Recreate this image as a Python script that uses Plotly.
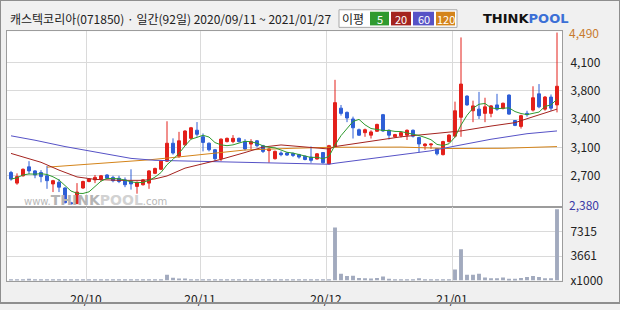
import pandas as pd
import plotly.graph_objects as go

TITLE = "캐스텍코리아(071850) · 일간(92일) 2020/09/11 ~ 2021/01/27"
START, END = "2020-09-11", "2021-01-27"
HOLIDAYS = ["2020-09-30", "2020-10-01", "2020-10-02", "2020-10-09",
            "2020-12-25", "2020-12-31", "2021-01-01"]

OPEN = [2770, 2640, 2730, 2840, 2790, 2770, 2730, 2630, 2650, 2580,
        2400, 2390, 2580, 2660, 2680, 2690, 2740, 2710, 2700, 2680,
        2660, 2600, 2620, 2640, 2760, 2810, 2910, 3130, 2970, 3110,
        3190, 3290, 3210, 3130, 3050, 2940, 3150, 3150, 3190, 3150,
        3120, 3160, 3100, 3040, 2940, 3010, 3010, 3005, 2990, 2970,
        2960, 2936, 3016, 2876, 3089, 3561, 3509, 3428, 3296, 3260,
        3229, 3277, 3481, 3289, 3209, 3221, 3229, 3289, 3200, 3100,
        3110, 3065, 2990, 3150, 3217, 3449, 3709, 3529, 3549, 3497,
        3497, 3601, 3557, 3722, 3409, 3337, 3497, 3537, 3737, 3549,
        3697, 3601]
HIGH = [2790, 2760, 2820, 2910, 2800, 2800, 2850, 2680, 2690, 2590,
        2410, 2640, 2670, 2700, 2740, 2740, 2750, 2730, 2730, 2710,
        2810, 2660, 2690, 2800, 2830, 2920, 3400, 3190, 3270, 3290,
        3330, 3390, 3250, 3140, 3060, 3190, 3200, 3230, 3200, 3180,
        3180, 3170, 3110, 3070, 3040, 3030, 3020, 3015, 3000, 2980,
        3090, 3010, 3020, 3110, 3909, 3600, 3520, 3457, 3310, 3310,
        3289, 3370, 3490, 3300, 3245, 3270, 3300, 3300, 3210, 3130,
        3125, 3070, 3160, 3240, 3641, 4430, 3720, 3653, 3761, 3689,
        3600, 3737, 3630, 3730, 3415, 3480, 3529, 3830, 3857, 3710,
        3729, 4490]
LOW = [2670, 2620, 2720, 2750, 2700, 2650, 2570, 2530, 2530, 2390,
       2380, 2380, 2570, 2650, 2640, 2660, 2690, 2650, 2640, 2590,
       2560, 2510, 2610, 2570, 2750, 2800, 2900, 2990, 2950, 3100,
       3180, 3210, 3030, 3030, 2910, 2910, 3140, 3130, 3140, 3040,
       3050, 3080, 3010, 2890, 2930, 2970, 2975, 2960, 2940, 2920,
       2890, 2930, 2880, 2870, 3080, 3470, 3389, 3188, 3220, 3209,
       3188, 3270, 3270, 3176, 3200, 3200, 3170, 3200, 3016, 3050,
       3060, 2980, 2980, 3140, 3200, 3209, 3590, 3389, 3428, 3389,
       3449, 3529, 3545, 3480, 3340, 3310, 3457, 3520, 3560, 3530,
       3529, 3509]
CLOSE = [2690, 2720, 2810, 2790, 2740, 2720, 2670, 2670, 2590, 2400,
         2385, 2530, 2660, 2690, 2710, 2730, 2700, 2670, 2660, 2620,
         2630, 2650, 2680, 2790, 2820, 2910, 3130, 3010, 3160, 3280,
         3320, 3240, 3140, 3050, 2940, 3180, 3190, 3190, 3150, 3060,
         3150, 3100, 3030, 3060, 3030, 2990, 2985, 2980, 2960, 2930,
         2920, 3000, 2890, 3100, 3629, 3497, 3440, 3320, 3229, 3296,
         3269, 3361, 3281, 3229, 3236, 3260, 3289, 3217, 3121, 3120,
         3120, 3000, 3150, 3230, 3529, 3857, 3601, 3589, 3469, 3577,
         3589, 3549, 3621, 3488, 3349, 3469, 3481, 3689, 3577, 3697,
         3561, 3830]
VOLUME_K = [120, 110, 130, 250, 120, 110, 140, 120, 110, 150,
            130, 160, 140, 110, 100, 110, 120, 100, 110, 120,
            130, 110, 100, 150, 130, 160, 880, 400, 300, 300,
            200, 150, 140, 120, 130, 150, 110, 120, 110, 120,
            100, 110, 120, 130, 120, 110, 100, 110, 120, 110,
            130, 120, 140, 160, 7950, 1025, 690, 730, 390, 340,
            290, 390, 590, 250, 190, 170, 160, 180, 340, 150,
            130, 140, 150, 160, 1650, 4685, 880, 880, 1025, 440,
            340, 340, 440, 250, 250, 390, 540, 680, 540, 340,
            340, 10690]

MA20_IDX = [0, 5, 8, 11, 14, 18, 22, 24, 26, 29, 32, 35, 39, 42, 45, 48,
            51, 53, 54, 59, 65, 70, 75, 80, 84, 87, 91]
MA20_VAL = [3005, 2896, 2800, 2716, 2686, 2674, 2674, 2692, 2728, 2824,
            2878, 2932, 3016, 3083, 3109, 3089, 3065, 3059, 3089, 3143,
            3209, 3245, 3281, 3341, 3383, 3455, 3549]
MA60_IDX = [0, 4, 9, 14, 20, 24, 30, 40, 45, 50, 53, 54, 59, 65, 70, 74,
            80, 86, 91]
MA60_VAL = [3221, 3167, 3089, 3022, 2944, 2920, 2911, 2896, 2888, 2878,
            2872, 2884, 2932, 2992, 3037, 3095, 3179, 3247, 3281]
MA120_IDX = [6, 13, 23, 28, 34, 39, 47, 53, 65, 73, 82, 91]
MA120_VAL = [2836, 2872, 2926, 2962, 3008, 3047, 3068, 3080, 3083, 3065,
             3068, 3089]

PRICE_TICK_TEXT = ["4,100", "3,800", "3,400", "3,100", "2,700"]
PRICE_MAX_LABEL, PRICE_MIN_LABEL = "4,490", "2,380"
VOL_TICK_VALS = [0, 3661, 7315]
VOL_TICK_TEXT = ["x1000", "3661", "7315"]
MA_NAMES = ["5", "20", "60", "120"]

# ---- derived ----
days = pd.bdate_range(START, END)
days = days[~days.isin(pd.to_datetime(HOLIDAYS))]
n = len(days)
xi = list(range(n))
month_start = [i for i in range(1, n) if days[i].month != days[i - 1].month]
month_text = [days[i].strftime("%y/%m") for i in month_start]
month_vals = [i - 0.5 for i in month_start]
ma5 = pd.Series(CLOSE).rolling(5, min_periods=1).mean().tolist()

W, H = 620, 310
PL, PR = 7, 562
PT, PB, VB = 32, 212, 287
STEP = 6.0
FIRST = 11
x_range = [-(FIRST - PL) / STEP, (n - 1) + (PR - (FIRST + STEP * (n - 1))) / STEP]
p_hi = max(HIGH) + 1.3 * 12.01
p_lo = min(LOW) - 3 * 12.01
span = p_hi - p_lo
grid_px = [64, 93, 122, 151, 180]
price_tickvals = [p_hi - (g - PT) / (PB - PT) * span for g in grid_px]
vol_top = VOL_TICK_VALS[1] * (VB - PB) / 25.0


def fx(p):
    return p / W


def fy(p):
    return 1 - p / H


UP, DOWN = "#e3201b", "#2f5fd6"
C_MA = ["#2f9a2f", "#a4231f", "#5652c6", "#d4841a"]
GRID = "#dadada"
FRAME = "#9c9c9c"
FONT = "Noto Sans CJK KR"

fig = go.Figure()
fig.add_trace(go.Candlestick(
    x=xi, open=OPEN, high=HIGH, low=LOW, close=CLOSE,
    increasing=dict(line=dict(color=UP, width=1), fillcolor=UP),
    decreasing=dict(line=dict(color=DOWN, width=1), fillcolor=DOWN),
    showlegend=False, xaxis="x", yaxis="y"))
fig.add_trace(go.Scatter(x=MA120_IDX, y=MA120_VAL, mode="lines",
                         line=dict(color=C_MA[3], width=1), showlegend=False))
fig.add_trace(go.Scatter(x=MA60_IDX, y=MA60_VAL, mode="lines",
                         line=dict(color=C_MA[2], width=1), showlegend=False))
fig.add_trace(go.Scatter(x=MA20_IDX, y=MA20_VAL, mode="lines",
                         line=dict(color=C_MA[1], width=1), showlegend=False))
fig.add_trace(go.Scatter(x=xi, y=ma5, mode="lines",
                         line=dict(color=C_MA[0], width=1), showlegend=False))
fig.add_trace(go.Bar(x=xi, y=VOLUME_K, marker=dict(color="#a2aabe", line=dict(width=0)),
                     showlegend=False, xaxis="x2", yaxis="y2"))

axis_common = dict(showline=True, linecolor=FRAME, linewidth=1, mirror=True,
                   gridcolor=GRID, gridwidth=1, zeroline=False, fixedrange=True)
fig.update_layout(
    width=W, height=H, margin=dict(l=0, r=0, t=0, b=0),
    paper_bgcolor="#f0f0f0", plot_bgcolor="#ffffff",
    bargap=0.35,
    font=dict(family=FONT, size=12, color="#222222"),
    xaxis=dict(domain=[fx(PL), fx(PR)], range=x_range, rangeslider=dict(visible=False),
               tickvals=month_vals, showticklabels=False, ticks="", anchor="y",
               **axis_common),
    xaxis2=dict(domain=[fx(PL), fx(PR)], range=x_range, matches="x",
                tickvals=month_vals, ticktext=month_text, ticks="",
                ticklabelstandoff=8,
                tickfont=dict(size=12, color="#222222"), anchor="y2", **axis_common),
    yaxis=dict(domain=[fy(PB), fy(PT)], range=[p_lo, p_hi], side="right",
               tickvals=price_tickvals, ticktext=PRICE_TICK_TEXT, ticks="",
               ticklabelstandoff=5, tickfont=dict(size=12, color="#222222"),
               anchor="x", **axis_common),
    yaxis2=dict(domain=[fy(VB), fy(PB)], range=[0, vol_top], side="right",
                tickvals=VOL_TICK_VALS, ticktext=VOL_TICK_TEXT, ticks="",
                ticklabelstandoff=5, tickfont=dict(size=12, color="#222222"),
                anchor="x2", **axis_common),
)

shapes = [
    dict(type="rect", xref="paper", yref="paper", x0=fx(339), x1=fx(457),
         y0=fy(28), y1=fy(10), fillcolor="#ffffff", line=dict(color="#a8a8a8", width=1)),
]
legend_boxes = [(370, 389), (391, 411), (413, 434), (436, 455)]
annotations = [
    dict(text=TITLE, xref="paper", yref="paper", x=fx(8), y=fy(19),
         xanchor="left", yanchor="middle", showarrow=False,
         font=dict(family=FONT, size=12, color="#222222")),
    dict(text="이평", xref="paper", yref="paper", x=fx(353), y=fy(19),
         xanchor="center", yanchor="middle", showarrow=False,
         font=dict(family=FONT, size=12, color="#222222")),
]
for (a, b), name, col in zip(legend_boxes, MA_NAMES, C_MA):
    shapes.append(dict(type="rect", xref="paper", yref="paper", x0=fx(a), x1=fx(b),
                       y0=fy(26), y1=fy(12), fillcolor=col, line=dict(width=0)))
    annotations.append(dict(text=name, xref="paper", yref="paper", x=fx((a + b) / 2),
                            y=fy(19), xanchor="center", yanchor="middle", showarrow=False,
                            font=dict(family=FONT, size=11, color="#ffffff")))
annotations += [
    dict(text="<b>THINK</b><b><span style='color:#3b6fd6'>POOL</span></b>",
         xref="paper", yref="paper", x=fx(525), y=fy(19), xanchor="center",
         yanchor="middle", showarrow=False,
         font=dict(family="DejaVu Sans", size=13, color="#111111")),
    dict(text="www.<b><span style='font-size:14px;color:#b4b4b4'>THINK</span>"
              "<span style='font-size:14px;color:#d2d2d2'>POOL</span></b>.com",
         xref="paper", yref="paper", x=fx(22), y=fy(205), xanchor="left",
         yanchor="middle", showarrow=False,
         font=dict(family="DejaVu Sans", size=10, color="#b8b8b8")),
    dict(text=PRICE_MAX_LABEL, xref="paper", yref="y", x=fx(567), y=max(HIGH),
         xanchor="left", yanchor="middle", showarrow=False,
         font=dict(family=FONT, size=12, color="#c87a2e")),
    dict(text=PRICE_MIN_LABEL, xref="paper", yref="y", x=fx(567), y=min(LOW),
         xanchor="left", yanchor="middle", showarrow=False,
         font=dict(family=FONT, size=12, color="#3a3aa6")),
]
shapes.append(dict(type="rect", xref="paper", yref="paper", x0=0, x1=1, y0=0, y1=1,
                   line=dict(color="#8e8e8e", width=2), fillcolor="rgba(0,0,0,0)"))
fig.update_layout(shapes=shapes, annotations=annotations)

fig.write_html("out.html")
